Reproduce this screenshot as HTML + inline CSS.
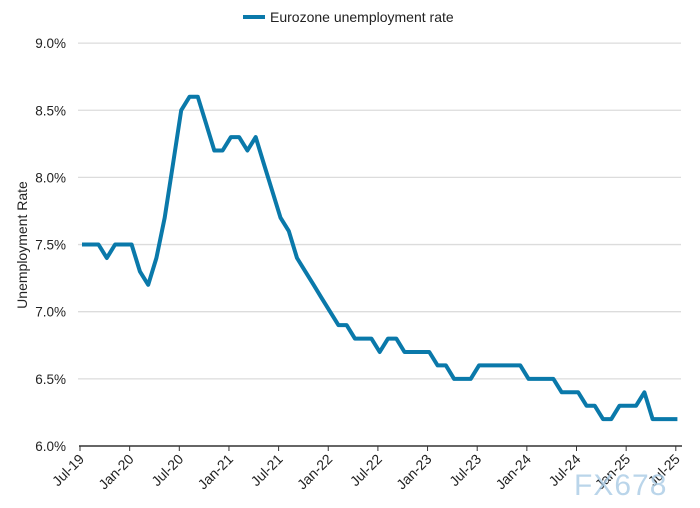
<!DOCTYPE html>
<html><head><meta charset="utf-8"><style>
body{margin:0;background:#fff}
svg{display:block;font-family:"Liberation Sans",sans-serif}
</style></head><body>
<svg id="s" width="700" height="508" viewBox="0 0 700 508">
<line x1="243" y1="17" x2="265" y2="17" stroke="#0a79aa" stroke-width="4"/>
<text x="270" y="22" font-size="14" fill="#222">Eurozone unemployment rate</text>
<text transform="translate(27,245) rotate(-90)" text-anchor="middle" font-size="14" fill="#222">Unemployment Rate</text>
<g id="g"></g>
</svg>
<script>
var g=document.getElementById('g'),h='';
function Y(v){return 446-(v-6)*134.3;}
for(var i=0;i<=6;i++){var v=6+i*0.5,y=Y(v);
 if(i>0)h+='<line x1="78" x2="681" y1="'+y+'" y2="'+y+'" stroke="#dcdcdc" stroke-width="1.3"/>';
 h+='<text x="66" y="'+(y+5)+'" text-anchor="end" font-size="13.5" fill="#222">'+v.toFixed(1)+'%</text>';}
h+='<line x1="79" x2="682" y1="446" y2="446" stroke="#333" stroke-width="1.5"/>';
var labs=['Jul-19','Jan-20','Jul-20','Jan-21','Jul-21','Jan-22','Jul-22','Jan-23','Jul-23','Jan-24','Jul-24','Jan-25','Jul-25'];
for(var k=0;k<13;k++){var x=80+k*49.65;
 h+='<line x1="'+x+'" x2="'+x+'" y1="446" y2="451" stroke="#333"/>';
 h+='<text transform="translate('+(x+5)+',460) rotate(-45)" text-anchor="end" font-size="14" fill="#222">'+labs[k]+'</text>';}
var d=[7.5,7.5,7.5,7.4,7.5,7.5,7.5,7.3,7.2,7.4,7.7,8.1,8.5,8.6,8.6,8.4,8.2,8.2,8.3,8.3,8.2,8.3,8.1,7.9,7.7,7.6,7.4,7.3,7.2,7.1,7.0,6.9,6.9,6.8,6.8,6.8,6.7,6.8,6.8,6.7,6.7,6.7,6.7,6.6,6.6,6.5,6.5,6.5,6.6,6.6,6.6,6.6,6.6,6.6,6.5,6.5,6.5,6.5,6.4,6.4,6.4,6.3,6.3,6.2,6.2,6.3,6.3,6.3,6.4,6.2,6.2,6.2,6.2];
var p=d.map(function(v,i){return (82+i*8.27).toFixed(1)+','+Y(v).toFixed(1)}).join(' ');
h+='<polyline points="'+p+'" fill="none" stroke="#0a79aa" stroke-width="4" stroke-linejoin="round"/>';
h+='<text x="574" y="495" font-size="30" fill="#a9cbe6" opacity="0.8" letter-spacing="1">FX678</text>';
g.innerHTML=h;
</script>
</body></html>
